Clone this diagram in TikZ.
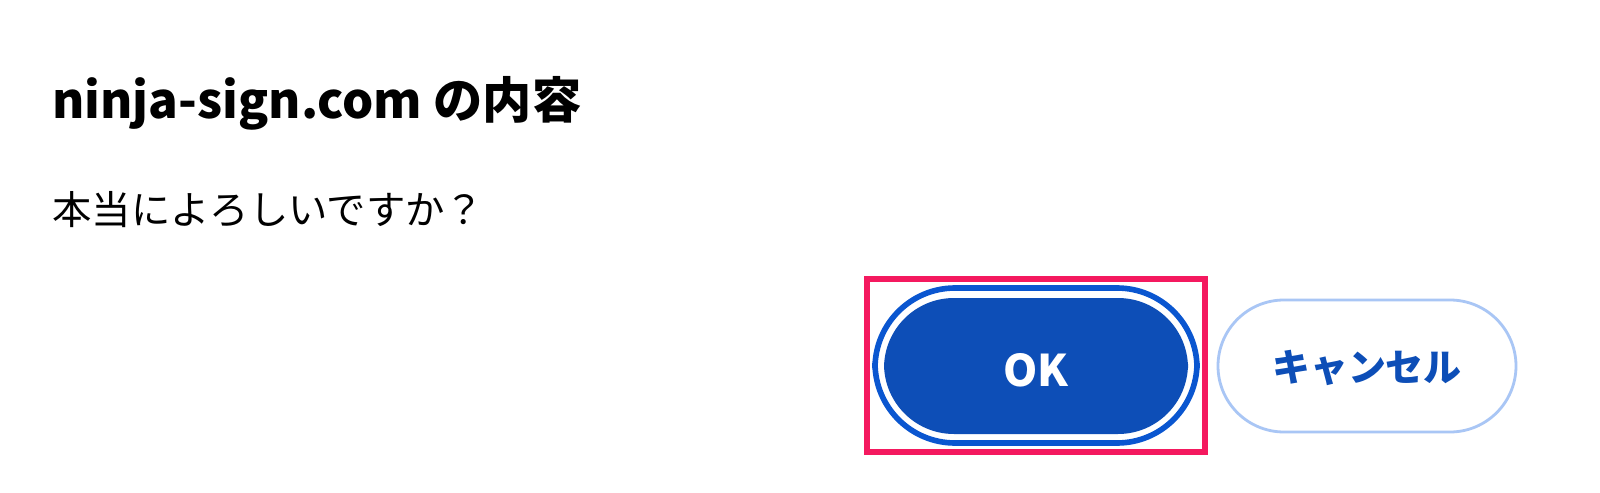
\documentclass[tikz,border=0pt]{standalone}
\usepackage{fontspec}
\setmainfont{Noto Sans CJK JP}
\usetikzlibrary{positioning}
\definecolor{okblue}{HTML}{0D4EB7}
\definecolor{ringblue}{HTML}{0A56D0}
\definecolor{paleblue}{HTML}{A9C6F5}
\definecolor{marker}{HTML}{F4195F}
\tikzset{
  label/.style={anchor=west, inner sep=0pt}
}
\begin{document}
\begin{tikzpicture}[x=0.025cm, y=-0.025cm]
\useasboundingbox[fill=white] (0,0) rectangle (1600,493);
% Texts of the dialog
\node [label, font=\bfseries\fontsize{35}{40}\selectfont] (title) at (52,103) {ninja-sign.com の内容};
\node [label, font=\fontsize{28}{34}\selectfont] (question) at (52,210) {本当によろしいですか？};

% OK button with focus ring
\fill [okblue, rounded corners=70*0.025cm] (884,298) rectangle (1188,434);
\draw [ringblue, line width=4pt, rounded corners=80*0.025cm] (875,288) rectangle (1197,443);
\node [text=white, font=\bfseries\fontsize{31}{36}\selectfont] (ok) at (1036,370) {OK};

% Cancel button
\draw [paleblue, line width=2pt, fill=white, rounded corners=66*0.025cm] (1218,300) rectangle (1516,432);
\node [text=okblue, font=\bfseries\fontsize{27}{32}\selectfont] (cancel) at (1367,368) {キャンセル};

% Highlight box
\draw [marker, line width=4pt] (867,279) rectangle (1205,452);
\end{tikzpicture}
\end{document}
